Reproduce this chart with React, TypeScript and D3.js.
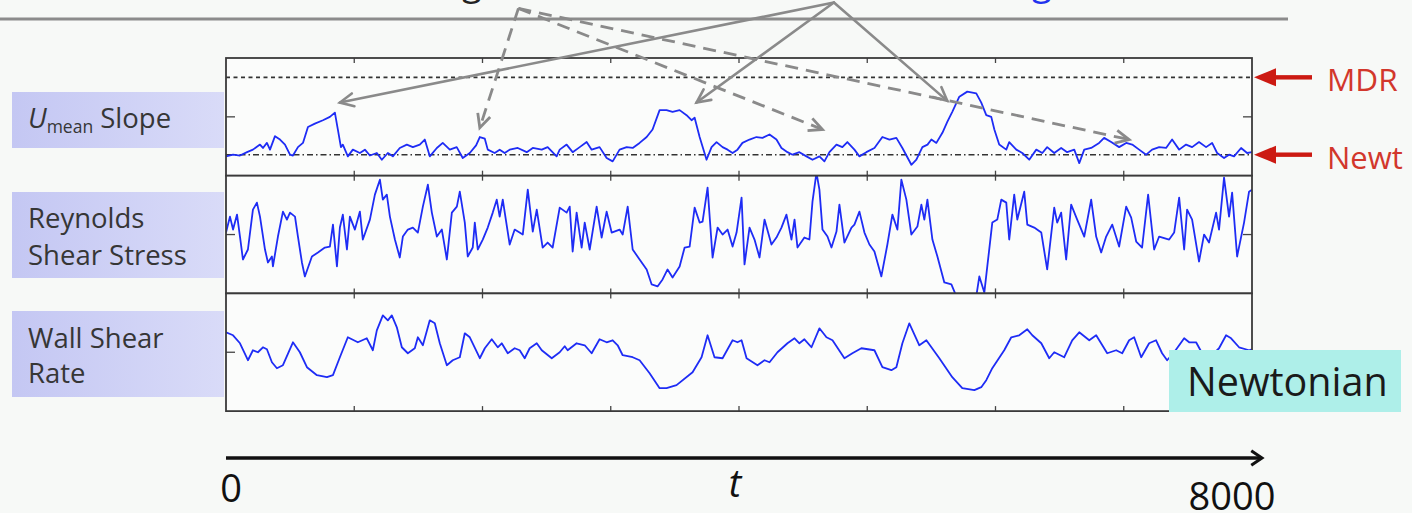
import React from "react";
import * as d3 from "d3";

// Time axis
const T_MAX = 8000;
const tTicks = d3.range(0, T_MAX + 1, 1000);
const tAxisLabels = ["0", "8000"];

// Reference slopes of the mean velocity profile
const slopeNewt = 2.5;
const slopeMDR = 11.7;
const slopeLabels = ["MDR", "Newt"];

// Series: [t, value]
const umeanSlope: [number, number][] = [
  [0, 2.3], [55, 2.5], [109, 2.4], [164, 2.8], [210, 3.1], [265, 3.7], [288, 3.3], [319, 3.9],
  [343, 3.1], [382, 4.7], [421, 4.3], [460, 3.7], [499, 2.5], [522, 2.4], [561, 3.4], [600, 3.9],
  [639, 5.8], [693, 6.2], [756, 6.6], [810, 7.0], [849, 7.5], [872, 5.5], [896, 3.4], [911, 3.7],
  [950, 2.3], [989, 3.1], [1044, 2.7], [1083, 3.1], [1122, 2.4], [1176, 2.7], [1215, 1.9], [1262, 2.7],
  [1301, 2.3], [1355, 3.3], [1410, 3.7], [1457, 3.4], [1511, 3.7], [1550, 4.3], [1589, 2.3], [1644, 3.3],
  [1690, 3.9], [1745, 3.1], [1799, 3.4], [1846, 2.1], [1901, 2.7], [1950, 3.6], [1979, 4.6], [2018, 4.4],
  [2041, 3.1], [2095, 2.7], [2134, 3.1], [2173, 2.7], [2212, 3.1], [2275, 3.3], [2345, 2.8], [2392, 3.3],
  [2462, 3.1], [2508, 3.4], [2578, 2.3], [2602, 3.1], [2656, 3.7], [2703, 2.8], [2758, 3.4], [2812, 4.0],
  [2851, 3.1], [2913, 3.4], [2968, 2.1], [3015, 1.7], [3069, 3.1], [3124, 3.4], [3171, 3.3], [3225, 3.9],
  [3280, 4.6], [3326, 5.5], [3381, 7.8], [3435, 7.8], [3482, 7.6], [3537, 7.8], [3591, 7.2], [3630, 6.6],
  [3654, 6.9], [3693, 4.6], [3747, 1.9], [3786, 3.4], [3825, 4.0], [3872, 3.4], [3911, 3.1], [3950, 2.7],
  [3988, 3.1], [4027, 3.9], [4082, 4.3], [4136, 4.6], [4183, 4.5], [4238, 4.9], [4292, 4.3], [4331, 3.3],
  [4378, 2.8], [4417, 2.5], [4471, 2.8], [4526, 2.3], [4573, 1.9], [4627, 2.3], [4666, 1.7], [4705, 2.8],
  [4760, 3.7], [4806, 3.4], [4845, 4.0], [4900, 3.1], [4939, 2.3], [4993, 2.8], [5056, 3.3], [5118, 4.6],
  [5173, 4.3], [5227, 4.5], [5274, 3.3], [5344, 1.3], [5383, 1.9], [5430, 3.4], [5470, 3.7], [5500, 4.3],
  [5539, 3.9], [5586, 5.1], [5624, 6.4], [5663, 7.6], [5718, 9.4], [5780, 10.0], [5850, 9.8], [5889, 8.7],
  [5928, 7.2], [5967, 7.0], [5991, 5.5], [6029, 3.7], [6084, 3.1], [6107, 4.0], [6162, 3.1], [6209, 2.7],
  [6263, 1.9], [6318, 3.1], [6365, 2.7], [6403, 3.4], [6458, 2.7], [6512, 3.3], [6559, 2.8], [6614, 3.1],
  [6653, 1.5], [6692, 3.1], [6746, 3.3], [6808, 3.9], [6847, 4.5], [6902, 4.0], [6964, 3.4], [7019, 3.9],
  [7066, 3.7], [7120, 3.1], [7175, 2.5], [7221, 3.1], [7276, 3.4], [7330, 3.3], [7377, 4.3], [7432, 3.1],
  [7486, 3.7], [7533, 3.4], [7587, 4.0], [7642, 3.4], [7689, 3.9], [7728, 2.7], [7782, 2.1], [7821, 2.5],
  [7860, 2.3], [7915, 3.3], [7962, 2.7], [8000, 2.8],
];

const reynoldsStress: [number, number][] = [
  [0, 2], [31, 18], [55, 5], [86, 20], [109, -2], [132, -25], [171, -15], [210, 25], [241, 32],
  [265, 18], [304, -15], [327, -28], [358, -22], [366, -32], [405, -2], [444, 23], [475, 15], [499, 22],
  [538, 18], [561, -2], [592, -28], [615, -42], [670, -22], [717, -18], [771, -13], [810, -12], [834, 10],
  [865, -32], [888, 7], [911, 20], [943, -15], [966, 18], [1005, 5], [1044, 23], [1067, -5], [1122, 15],
  [1161, 40], [1200, 55], [1223, 35], [1254, 40], [1278, 18], [1317, -5], [1355, -23], [1379, -2],
  [1418, 5], [1457, 7], [1496, 2], [1535, 28], [1574, 50], [1605, 22], [1644, -2], [1683, 5], [1722, -25],
  [1761, 22], [1800, 28], [1823, 43], [1862, 12], [1885, -22], [1924, -13], [1940, 12], [1963, -15],
  [2002, -5], [2041, 7], [2080, 22], [2111, 35], [2134, 18], [2158, 35], [2212, -10], [2251, 5], [2314, 0],
  [2353, 45], [2392, 3], [2423, 25], [2469, -13], [2508, -8], [2547, -13], [2602, 27], [2656, 22], [2680, 28],
  [2703, -17], [2734, 22], [2773, -13], [2797, 12], [2836, -15], [2890, 28], [2929, -3], [2968, 23], [3007, 2],
  [3069, 5], [3093, 0], [3132, 28], [3171, -15], [3225, -25], [3280, -35], [3319, -50], [3365, -52],
  [3404, -45], [3443, -35], [3482, -43], [3537, -32], [3576, -13], [3615, -12], [3654, 27], [3693, 12],
  [3716, 13], [3755, 47], [3794, -23], [3833, 7], [3872, 0], [3911, 5], [3950, -12], [3981, 2], [4020, 37],
  [4043, -30], [4082, 7], [4121, -5], [4160, -23], [4199, 15], [4253, -10], [4292, -3], [4331, 7], [4370, 20],
  [4409, -5], [4433, 15], [4456, -13], [4510, -3], [4549, -5], [4573, 33], [4604, 62], [4627, 45], [4651, 5],
  [4690, -2], [4721, -13], [4760, 3], [4783, 30], [4822, -8], [4877, 7], [4900, 10], [4939, 23], [4978, 2],
  [5017, -10], [5056, -17], [5110, -42], [5157, -10], [5196, 20], [5235, 5], [5266, 55], [5305, 35],
  [5344, 0], [5391, 8], [5422, 30], [5445, 15], [5469, 35], [5508, -5], [5547, -22], [5601, -48],
  [5656, -50], [5695, -62], [5757, -70], [5850, -62], [5874, -42], [5913, -58], [5936, -32], [5975, 12],
  [6014, 15], [6045, 35], [6084, 32], [6107, -5], [6146, 40], [6170, 15], [6224, 43], [6248, 10], [6302, 7],
  [6357, 2], [6403, -35], [6458, 27], [6481, 12], [6512, 22], [6551, -25], [6590, 30], [6637, 15], [6692, -2],
  [6746, 35], [6785, -2], [6824, -18], [6863, -2], [6910, 10], [6964, -12], [7019, 28], [7058, 17], [7097, -7],
  [7143, -13], [7190, 40], [7237, -15], [7276, -2], [7354, -5], [7393, 2], [7432, 37], [7471, -15], [7494, 25],
  [7533, 15], [7587, -27], [7626, 0], [7665, -8], [7720, 22], [7743, 5], [7782, 57], [7821, 18], [7845, 42],
  [7884, -22], [7938, 12], [7977, 43], [8000, 45],
];

const wallShearRate: [number, number][] = [
  [0, 20], [55, 17], [109, 9], [171, -8], [210, 2], [249, 0], [288, 5], [319, 3], [358, -10], [397, -16],
  [444, -13], [522, 10], [576, 0], [631, -15], [709, -23], [787, -25], [834, -23], [888, -5], [950, 15],
  [1028, 10], [1098, 14], [1145, 2], [1176, 22], [1223, 37], [1262, 32], [1293, 37], [1332, 25], [1371, 5],
  [1418, -1], [1472, 4], [1496, 15], [1535, 7], [1589, 32], [1628, 29], [1667, 9], [1722, -13], [1768, -8],
  [1823, -5], [1862, 19], [1901, 15], [1979, -6], [2018, 4], [2072, 13], [2119, 5], [2150, 9], [2197, -1],
  [2251, 4], [2290, 2], [2329, -6], [2368, 4], [2423, 9], [2462, 2], [2540, -6], [2602, 0], [2641, 6],
  [2664, 2], [2734, 9], [2797, 7], [2851, -1], [2913, 13], [2968, 10], [3015, 12], [3054, 7], [3093, -3],
  [3171, -5], [3225, -8], [3303, -21], [3381, -36], [3435, -36], [3513, -33], [3638, -20], [3708, -5],
  [3755, 17], [3809, -5], [3872, -6], [3950, 12], [3988, 10], [4020, 12], [4059, -6], [4144, -13], [4199, -8],
  [4238, -10], [4300, 0], [4378, 9], [4433, 14], [4471, 9], [4510, 13], [4565, 5], [4627, 24], [4682, 15],
  [4729, 12], [4822, -6], [4884, -1], [4954, 4], [5056, 2], [5118, -15], [5188, -18], [5227, -15], [5274, 9],
  [5328, 29], [5406, 7], [5461, 12], [5562, -6], [5663, -25], [5741, -36], [5835, -38], [5889, -35],
  [5928, -28], [5975, -16], [6068, 2], [6123, 15], [6185, 17], [6248, 23], [6287, 17], [6357, 9], [6419, -6],
  [6458, 0], [6536, -5], [6598, 12], [6653, 20], [6731, 12], [6785, 17], [6871, -1], [6941, 2], [6988, -1],
  [7042, 12], [7081, 15], [7136, -5], [7198, 9], [7252, 12], [7299, -1], [7338, -8], [7393, 0], [7471, 14],
  [7510, 10], [7564, 10], [7611, -1], [7681, -4], [7743, 4], [7798, 17], [7837, 14], [7899, 5], [7977, 2],
  [8000, 3],
];

// Annotation arrows in (t, slope) coordinates of the top panel
const solidApex: [number, number] = [4740, 20.6];
const solidTargets: [number, number][] = [[888, 8.7], [3669, 8.7], [5624, 8.9]];
const dashedApex: [number, number] = [2280, 19.9];
const dashedTargets: [number, number][] = [[1979, 5.7], [4651, 5.5], [7042, 4.3]];

const FONT = "'Open Sans', 'Noto Sans', sans-serif";

function openHead(x1: number, y1: number, x2: number, y2: number, len = 15, spread = 0.45) {
  const a = Math.atan2(y2 - y1, x2 - x1);
  const p1 = [x2 - len * Math.cos(a - spread), y2 - len * Math.sin(a - spread)];
  const p2 = [x2 - len * Math.cos(a + spread), y2 - len * Math.sin(a + spread)];
  return `M${p1[0]},${p1[1]}L${x2},${y2}L${p2[0]},${p2[1]}`;
}

export default function App() {
  const W = 1412;
  const H = 513;
  const left = 226;
  const right = 1252;
  const top = 58;
  const ph = 117.7;

  const x = d3.scaleLinear().domain([0, T_MAX]).range([left, right]);

  const panels = [
    { id: "slope", data: umeanSlope, domain: [0, 14], mid: 7 },
    { id: "rss", data: reynoldsStress, domain: [-59, 59], mid: 0 },
    { id: "wsr", data: wallShearRate, domain: [-59, 59], mid: 0 },
  ].map((p, i) => {
    const y0 = top + i * ph;
    const y = d3.scaleLinear().domain(p.domain).range([y0 + ph, y0]);
    return { ...p, y0, y };
  });

  const ySlope = panels[0].y;

  const labelBoxes = [
    { y: 92, h: 56 },
    { y: 192, h: 86 },
    { y: 311, h: 86 },
  ];

  const redArrow = (yy: number) => {
    const tip = right + 2;
    return (
      <g>
        <polygon points={`${tip},${yy} ${tip + 22},${yy - 9} ${tip + 22},${yy + 9}`} fill="#cc1a12" />
        <rect x={tip + 20} y={yy - 2.2} width={38} height={4.4} fill="#cc1a12" />
      </g>
    );
  };

  return (
    <svg
      width={W}
      height={H}
      viewBox={`0 0 ${W} ${H}`}
      style={{ position: "absolute", left: 0, top: 0, display: "block" }}
    >
      <defs>
        <linearGradient id="lblGrad" x1="0" x2="1" y1="0" y2="0">
          <stop offset="0" stopColor="#c4c7f3" />
          <stop offset="1" stopColor="#d9dbf8" />
        </linearGradient>
        {panels.map((p) => (
          <clipPath id={`clip-${p.id}`} key={p.id}>
            <rect x={left} y={p.y0} width={right - left} height={ph} />
          </clipPath>
        ))}
      </defs>
      <rect x={0} y={0} width={W} height={H} fill="#f7f9f7" />

      {/* title fragments (the heading sits above the visible area) and rule */}
      <text x={462} y={-5} fontFamily={FONT} fontSize={36} fill="#222">g</text>
      <text x={1032} y={-5} fontFamily={FONT} fontSize={36} fill="#2233ee">g</text>
      <line x1={0} x2={1288} y1={19} y2={19} stroke="#8c8c8c" strokeWidth={3} />

      {/* row labels */}
      {labelBoxes.map((b, i) => (
        <rect key={i} x={12} y={b.y} width={212} height={b.h} fill="url(#lblGrad)" />
      ))}
      <text x={28} y={128} fontFamily={FONT} fontSize={27.5} fill="#363636">
        <tspan fontStyle="italic">U</tspan>
        <tspan fontSize={17.5} dy={5}>mean</tspan>
        <tspan dy={-5}> Slope</tspan>
      </text>
      <text fontFamily={FONT} fontSize={27.5} fill="#363636">
        <tspan x={28} y={228}>Reynolds</tspan>
        <tspan x={28} y={265}>Shear Stress</tspan>
      </text>
      <text fontFamily={FONT} fontSize={27.5} fill="#363636">
        <tspan x={28} y={348}>Wall Shear</tspan>
        <tspan x={28} y={383}>Rate</tspan>
      </text>

      {/* panels */}
      {panels.map((p) => {
        const line = d3
          .line<[number, number]>()
          .x((d) => x(d[0]))
          .y((d) => p.y(d[1]));
        return (
          <g key={p.id}>
            <rect x={left} y={p.y0} width={right - left} height={ph} fill="#fbfcfb" />
            {p.id === "slope" && (
              <g>
                <line x1={left} x2={right} y1={ySlope(slopeMDR)} y2={ySlope(slopeMDR)}
                  stroke="#333" strokeWidth={1.6} strokeDasharray="4,3.5" />
                <line x1={left} x2={right} y1={ySlope(slopeNewt)} y2={ySlope(slopeNewt)}
                  stroke="#333" strokeWidth={1.6} strokeDasharray="6,3,1.5,3" />
              </g>
            )}
            <path d={line(p.data) || ""} fill="none" stroke="#1e2cf5" strokeWidth={1.8}
              strokeLinejoin="round" clipPath={`url(#clip-${p.id})`} />
            {tTicks.slice(1, -1).map((t) => (
              <g key={t}>
                <line x1={x(t)} x2={x(t)} y1={p.y0} y2={p.y0 + 5} stroke="#444" strokeWidth={1.3} />
                <line x1={x(t)} x2={x(t)} y1={p.y0 + ph} y2={p.y0 + ph - 5} stroke="#444" strokeWidth={1.3} />
              </g>
            ))}
            <line x1={left} x2={left + 9} y1={p.y(p.mid)} y2={p.y(p.mid)} stroke="#444" strokeWidth={1.3} />
            <line x1={right} x2={right - 9} y1={p.y(p.mid)} y2={p.y(p.mid)} stroke="#444" strokeWidth={1.3} />
            <rect x={left} y={p.y0} width={right - left} height={ph} fill="none" stroke="#3a3a3a" strokeWidth={1.8} />
          </g>
        );
      })}

      {/* annotation arrows */}
      {solidTargets.map((d, i) => {
        const x1 = x(solidApex[0]), y1 = ySlope(solidApex[1]);
        const x2 = x(d[0]), y2 = ySlope(d[1]);
        return (
          <g key={`s${i}`} stroke="#8a8a8a" strokeWidth={2.6} fill="none" strokeLinecap="round">
            <line x1={x1} y1={y1} x2={x2} y2={y2} />
            <path d={openHead(x1, y1, x2, y2)} />
          </g>
        );
      })}
      {dashedTargets.map((d, i) => {
        const x1 = x(dashedApex[0]), y1 = ySlope(dashedApex[1]);
        const x2 = x(d[0]), y2 = ySlope(d[1]);
        return (
          <g key={`d${i}`} stroke="#8a8a8a" strokeWidth={2.8} fill="none">
            <line x1={x1} y1={y1} x2={x2} y2={y2} strokeDasharray="13,8" />
            <path d={openHead(x1, y1, x2, y2)} />
          </g>
        );
      })}

      {/* reference slope markers */}
      {redArrow(ySlope(slopeMDR))}
      {redArrow(ySlope(slopeNewt))}
      <text x={1327} y={ySlope(slopeMDR) + 14} fontFamily={FONT} fontSize={31.5} fill="#d2372c">{slopeLabels[0]}</text>
      <text x={1327} y={ySlope(slopeNewt) + 14} fontFamily={FONT} fontSize={31} fill="#d2372c">{slopeLabels[1]}</text>

      {/* case tag */}
      <rect x={1169} y={350} width={232} height={62} fill="#aeefe9" />
      <text x={1187} y={396} fontFamily={FONT} fontSize={39.5} fill="#1a1a1a">Newtonian</text>

      {/* time arrow */}
      <line x1={x(0)} x2={x(T_MAX) + 8} y1={458} y2={458} stroke="#111" strokeWidth={3.5} />
      <path d={openHead(x(0), 458, x(T_MAX) + 10, 458, 13, 0.6)} stroke="#111" strokeWidth={3} fill="none" />
      <text x={x(0) + 5} y={502} textAnchor="middle" fontFamily={FONT} fontSize={38} fill="#111">{tAxisLabels[0]}</text>
      <text x={x(T_MAX / 2) - 4} y={497} textAnchor="middle" fontFamily={FONT} fontSize={38} fontStyle="italic" fill="#111">t</text>
      <text x={x(T_MAX) - 20} y={510} textAnchor="middle" fontFamily={FONT} fontSize={38} fill="#111">{tAxisLabels[1]}</text>
    </svg>
  );
}
